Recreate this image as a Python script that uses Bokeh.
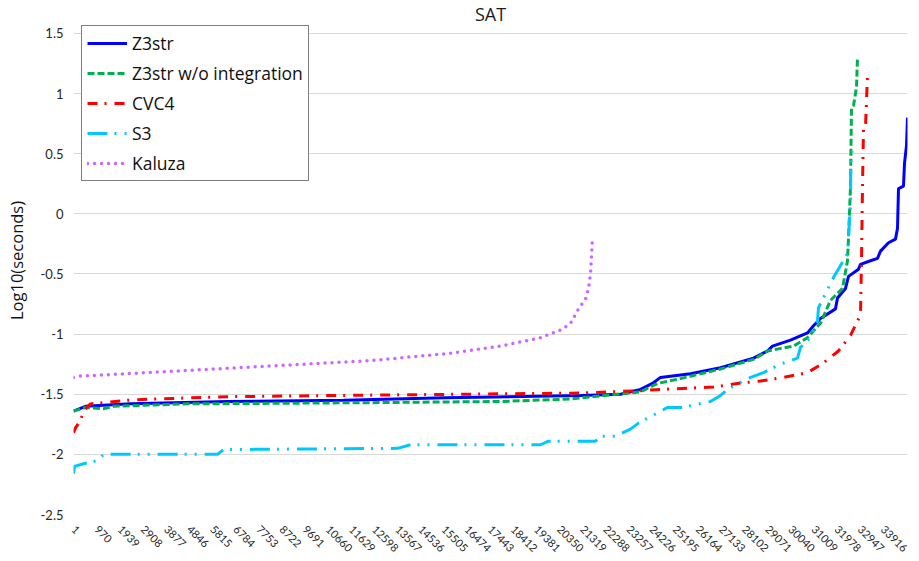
from bokeh.plotting import figure
from bokeh.models import Range1d, FixedTicker, Legend, LegendItem, Label
from bokeh.embed import file_html
from bokeh.resources import INLINE

FONT = "Lato"
FONT2 = "Open Sans"

title_text = "SAT"
y_label = "Log10(seconds)"

x_tick_labels = [1, 970, 1939, 2908, 3877, 4846, 5815, 6784, 7753, 8722, 9691,
                 10660, 11629, 12598, 13567, 14536, 15505, 16474, 17443, 18412,
                 19381, 20350, 21319, 22288, 23257, 24226, 25195, 26164, 27133,
                 28102, 29071, 30040, 31009, 31978, 32947, 33916]
y_ticks = [-2.5, -2, -1.5, -1, -0.5, 0, 0.5, 1, 1.5]
y_tick_labels = ["-2.5", "-2", "-1.5", "-1", "-0.5", "0", "0.5", "1", "1.5"]

# Z3str
z3str_x = [1, 503, 2388, 6453, 11313, 15587, 21243, 22919, 23757, 24260, 24595,
           25852, 27109, 28492, 29079, 29288, 30042, 30755, 31006, 31299, 31928,
           32012, 32347, 32473, 32892, 32975, 33394, 33688, 33813, 34149, 34442,
           34526, 34568, 34777, 34819, 34903, 34945]
z3str_y = [-1.64, -1.60, -1.58, -1.56, -1.55, -1.53, -1.51, -1.50, -1.46, -1.41, -1.36,
           -1.33, -1.28, -1.20, -1.14, -1.10, -1.05, -0.99, -0.93, -0.87, -0.79,
           -0.70, -0.62, -0.52, -0.46, -0.42, -0.39, -0.37, -0.31, -0.24, -0.21,
           -0.12, 0.21, 0.23, 0.42, 0.57, 0.80]

# Z3str w/o integration
noint_x = [1, 503, 1257, 1676, 4777, 12444, 17891, 20824, 23757, 24470, 25433,
           27109, 28492, 29079, 30168, 30755, 31299, 31718, 32221, 32431, 32473,
           32556, 32598, 32682, 32808, 32850]
noint_y = [-1.64, -1.61, -1.62, -1.60, -1.58, -1.57, -1.56, -1.54, -1.48, -1.41, -1.37,
           -1.29, -1.21, -1.14, -1.10, -1.03, -0.91, -0.72, -0.62, -0.39, -0.20,
           0.22, 0.88, 0.90, 1.05, 1.30]

# CVC4
cvc4_x = [1, 84, 293, 419, 712, 1215, 2263, 3310, 6578, 11062, 21243, 23757,
          24595, 26816, 27822, 28785, 29749, 30755, 31425, 32054, 32556, 32975,
          33017, 33059, 33101, 33185, 33269]
cvc4_y = [-1.82, -1.78, -1.72, -1.64, -1.58, -1.57, -1.55, -1.54, -1.52, -1.51, -1.49, -1.47,
          -1.46, -1.44, -1.41, -1.39, -1.36, -1.32, -1.24, -1.14, -1.01, -0.84,
          -0.39, 0.22, 0.72, 0.72, 1.16]

# S3
s3_x = [1, 42, 377, 1048, 1257, 6034, 6285, 13576, 14120, 19567, 19902, 21872,
        22081, 22710, 23338, 23674, 24051, 24889, 25517, 26690, 27109, 27403,
        28241, 28911, 29623, 30336, 30461, 30880, 31174, 31216, 31844, 32431,
        32556, 32570, 32640]
s3_y = [-2.16, -2.10, -2.08, -2.05, -2.00, -2.00, -1.96, -1.95, -1.92, -1.92, -1.89, -1.89,
        -1.85, -1.85, -1.79, -1.74, -1.70, -1.61, -1.61, -1.56, -1.51, -1.46,
        -1.37, -1.32, -1.25, -1.20, -1.11, -1.03, -0.89, -0.78, -0.53, -0.33,
        0.08, 0.44, 0.52]

# Kaluza
kaluza_x = [1, 210, 4064, 12444, 15796, 17891, 19567, 20489, 20824, 21160, 21453,
            21579, 21662, 21746]
kaluza_y = [-1.36, -1.35, -1.31, -1.22, -1.16, -1.10, -1.03, -0.96, -0.91, -0.79, -0.71,
            -0.62, -0.50, -0.20]

X_MAX = 34945
Y_MIN, Y_MAX = -2.5, 1.7245

p = figure(width=919, height=561, output_backend="svg", toolbar_location=None,
           x_range=Range1d(0, X_MAX), y_range=Range1d(Y_MIN, Y_MAX),
           min_border_left=73, min_border_right=12, min_border_top=6,
           min_border_bottom=47)
p.outline_line_color = None
p.background_fill_color = "white"
p.border_fill_color = "white"

# chart title, centred over the plot area
p.add_layout(Label(x=X_MAX / 2, y=1.664, text=title_text, text_align="center",
                   text_baseline="middle", text_font=FONT2, text_font_size="18px",
                   text_color="#1a1a1a"))

p.xgrid.grid_line_color = None
p.ygrid.grid_line_color = "#d9d9d9"
p.ygrid.grid_line_width = 1
p.ygrid.ticker = FixedTicker(ticks=y_ticks)

p.yaxis.ticker = FixedTicker(ticks=y_ticks)
p.yaxis.major_label_overrides = {t: l for t, l in zip(y_ticks, y_tick_labels)}
p.yaxis.axis_line_color = None
p.yaxis.major_tick_line_color = None
p.yaxis.minor_tick_line_color = None
p.yaxis.major_tick_out = 0
p.yaxis.major_tick_in = 0
p.yaxis.minor_tick_out = 0
p.yaxis.minor_tick_in = 0
p.yaxis.major_label_standoff = 10
p.yaxis.major_label_text_font = FONT
p.yaxis.major_label_text_font_size = "13px"
p.yaxis.major_label_text_color = "#262626"
p.yaxis.axis_label = y_label
p.yaxis.axis_label_text_font = FONT2
p.yaxis.axis_label_text_font_size = "16.5px"
p.yaxis.axis_label_text_font_style = "normal"
p.yaxis.axis_label_text_color = "#111111"
p.yaxis.axis_label_standoff = 10

p.xaxis.ticker = FixedTicker(ticks=x_tick_labels)
p.xaxis.major_label_overrides = {t: str(t) for t in x_tick_labels}
p.xaxis.axis_line_color = None
p.xaxis.major_tick_line_color = None
p.xaxis.minor_tick_line_color = None
p.xaxis.major_tick_out = 0
p.xaxis.major_tick_in = 0
p.xaxis.minor_tick_out = 0
p.xaxis.minor_tick_in = 0
p.xaxis.major_label_orientation = -0.785398
p.xaxis.major_label_standoff = 13
p.xaxis.major_label_text_font = FONT
p.xaxis.major_label_text_font_size = "11px"
p.xaxis.major_label_text_color = "#262626"

r1 = p.line(z3str_x, z3str_y, line_color="#0000ff", line_width=3)
r2 = p.line(noint_x, noint_y, line_color="#00b050", line_width=3, line_dash="7 3")
r3 = p.line(cvc4_x, cvc4_y, line_color="#ff0000", line_width=3, line_dash="10 7 2 8")
r4 = p.line(s3_x, s3_y, line_color="#00c8ff", line_width=3, line_dash="20 7 2 8 2 8")
r5 = p.line(kaluza_x, kaluza_y, line_color="#cc66ff", line_width=3.5, line_dash="0 7",
            line_cap="round")

legend = Legend(items=[
    LegendItem(label="Z3str", renderers=[r1]),
    LegendItem(label="Z3str w/o integration", renderers=[r2]),
    LegendItem(label="CVC4", renderers=[r3]),
    LegendItem(label="S3", renderers=[r4]),
    LegendItem(label="Kaluza", renderers=[r5]),
])
legend.location = (8, 333)
legend.margin = 0
legend.padding = 5
legend.spacing = 6
legend.label_height = 22
legend.glyph_height = 22
legend.glyph_width = 40
legend.label_standoff = 5
legend.label_text_font = FONT2
legend.label_text_font_size = "17.5px"
legend.label_text_color = "#111111"
legend.border_line_color = "black"
legend.border_line_width = 1
legend.background_fill_color = "white"
legend.background_fill_alpha = 1
p.add_layout(legend)

open("out.html", "w").write(file_html(p, INLINE))
